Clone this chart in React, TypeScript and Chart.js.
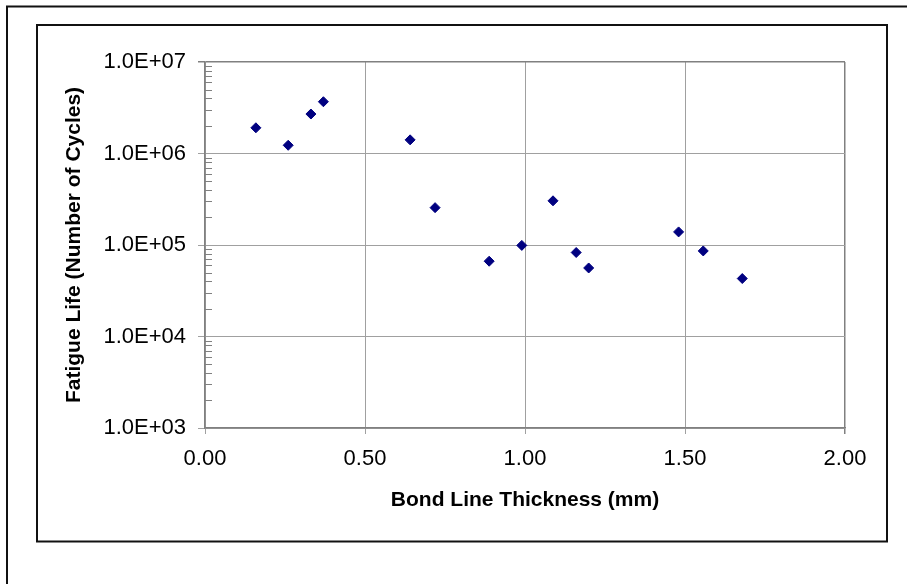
import React, { useEffect, useRef } from "react";
import { Chart, registerables } from "chart.js";

Chart.register(...registerables);

const THICKNESS_MM = [0.159, 0.26, 0.331, 0.37, 0.641, 0.719, 0.888, 0.99, 1.0875, 1.16, 1.199, 1.48, 1.557, 1.679];
const FATIGUE_CYCLES = [1.91e6, 1.23e6, 2.7e6, 3.68e6, 1.41e6, 2.56e5, 6.65e4, 9.9e4, 3.04e5, 8.28e4, 5.61e4, 1.39e5, 8.61e4, 4.3e4];
const Y_TICK_VALUES = [1e3, 1e4, 1e5, 1e6, 1e7];
const Y_TICK_LABELS = ["1.0E+03", "1.0E+04", "1.0E+05", "1.0E+06", "1.0E+07"];
const X_TICK_VALUES = [0, 0.5, 1, 1.5, 2];
const X_TICK_LABELS = ["0.00", "0.50", "1.00", "1.50", "2.00"];
const X_TITLE = "Bond Line Thickness (mm)";
const Y_TITLE = "Fatigue Life (Number of Cycles)";

const FONT = "'Liberation Sans', Arial, sans-serif";

const framePlugin = {
  id: "frames",
  beforeDraw(chart: any) {
    const ctx = chart.ctx;
    ctx.save();
    ctx.fillStyle = "#ffffff";
    ctx.fillRect(0, 0, chart.width, chart.height);
    ctx.strokeStyle = "#111111";
    ctx.lineWidth = 2;
    ctx.beginPath();
    ctx.moveTo(7, chart.height + 5);
    ctx.lineTo(7, 6.5);
    ctx.lineTo(chart.width + 5, 6.5);
    ctx.stroke();
    ctx.strokeRect(37, 25, 850, 516.5);
    ctx.restore();
  },
  afterDraw(chart: any) {
    const ctx = chart.ctx;
    const y = chart.scales.y;
    const left = chart.chartArea.left;
    ctx.save();
    ctx.strokeStyle = "#808080";
    ctx.lineWidth = 1;
    for (let d = 3; d < 7; d++) {
      for (let k = 2; k <= 9; k++) {
        const py = Math.round(y.getPixelForValue(k * Math.pow(10, d))) + 0.5;
        ctx.beginPath();
        ctx.moveTo(left, py);
        ctx.lineTo(left + 7, py);
        ctx.stroke();
      }
    }
    ctx.restore();
  },
};

export default function App() {
  const ref = useRef<HTMLCanvasElement | null>(null);
  useEffect(() => {
    if (!ref.current) return;
    const points = THICKNESS_MM.map((x, i) => ({ x, y: FATIGUE_CYCLES[i] }));
    const chart = new Chart(ref.current, {
      type: "scatter",
      data: {
        datasets: [
          {
            data: points,
            pointStyle: "rectRot",
            pointRadius: 5,
            pointBorderWidth: 1,
            backgroundColor: "#000080",
            borderColor: "#000080",
          },
        ],
      },
      plugins: [framePlugin],
      options: {
        responsive: false,
        animation: false,
        layout: { padding: { left: 0, top: 62, right: 62, bottom: 0 } },
        plugins: { legend: { display: false }, tooltip: { enabled: false } },
        scales: {
          x: {
            type: "linear",
            min: 0,
            max: 2,
            afterFit: (s: any) => { s.height = 156; },
            afterBuildTicks: (s: any) => { s.ticks = X_TICK_VALUES.map((v) => ({ value: v })); },
            ticks: {
              color: "#000000",
              font: { family: FONT, size: 22 },
              padding: 12,
              maxRotation: 0,
              callback: (v: any) => X_TICK_LABELS[X_TICK_VALUES.indexOf(Number(v))] ?? "",
            },
            grid: {
              color: (c: any) => (c.tick && (c.tick.value === 2) ? "#808080" : "#a0a0a0"),
              lineWidth: (c: any) => (c.tick && c.tick.value === 2 ? 1.5 : 1),
              tickLength: 6,
            },
            border: { display: true, color: "#808080", width: 1.5 },
            title: {
              display: true,
              text: X_TITLE,
              color: "#000000",
              font: { family: FONT, size: 21, weight: "bold" },
              padding: { top: 0, bottom: 71 },
            },
          },
          y: {
            type: "logarithmic",
            min: 1e3,
            max: 1e7,
            afterFit: (s: any) => { s.width = 205; },
            afterBuildTicks: (s: any) => { s.ticks = Y_TICK_VALUES.map((v) => ({ value: v })); },
            ticks: {
              color: "#000000",
              font: { family: FONT, size: 22 },
              padding: 12,
              callback: (v: any) => Y_TICK_LABELS[Y_TICK_VALUES.indexOf(Number(v))] ?? "",
            },
            grid: {
              color: (c: any) => (c.tick && c.tick.value === 1e7 ? "#808080" : "#a0a0a0"),
              lineWidth: (c: any) => (c.tick && c.tick.value === 1e7 ? 1.5 : 1),
              tickLength: 7,
            },
            border: { display: true, color: "#808080", width: 1.5 },
            title: {
              display: true,
              text: Y_TITLE,
              color: "#000000",
              font: { family: FONT, size: 21, weight: "bold" },
              padding: { top: 62, bottom: 0 },
            },
          },
        },
      },
    } as any);
    return () => chart.destroy();
  }, []);
  return (
    <div style={{ position: "absolute", left: 0, top: 0, width: 907, height: 584, background: "#fff" }}>
      <canvas ref={ref} width={907} height={584} style={{ display: "block" }} />
    </div>
  );
}
